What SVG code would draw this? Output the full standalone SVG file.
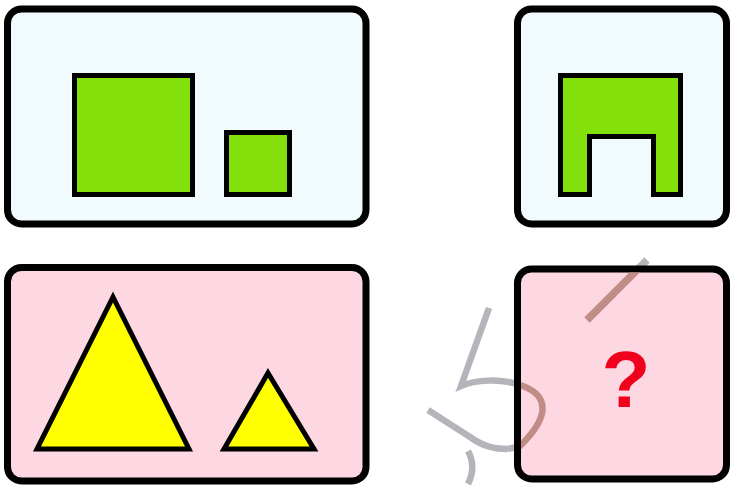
<svg xmlns="http://www.w3.org/2000/svg" width="730" height="486" viewBox="0 0 730 486">
  <defs>
    <clipPath id="br-clip">
      <rect x="521" y="272.5" width="202" height="203" rx="11"/>
    </clipPath>
    <g id="ribbons">
      <path d="M489,308 L461,386 C475,380 500,378 520,385 C548,394 552,415 520,446 L508,449"/>
      <path d="M428,410 L470,437 C480,444 490,449 508,449"/>
      <path d="M468,451 C474,462 474,472 468,484"/>
      <path d="M587,320 L647,260" stroke-width="7.5"/>
    </g>
  </defs>
  <style>
    .panel { stroke: #000; stroke-width: 7; }
    .blue { fill: #f1fbfe; }
    .pink { fill: #fdd7e1; }
    .shape { stroke: #000; stroke-width: 5; stroke-linejoin: miter; }
    .green { fill: #84e00a; }
    .yellow { fill: #ffff00; }
    .ribbon-out { fill: none; stroke: #b4b4ba; stroke-width: 6.5; stroke-linecap: butt; }
    .ribbon-in { fill: none; stroke: #c08c86; stroke-width: 6.5; stroke-linecap: butt; }
    .qm { font-family: "Liberation Sans", Arial, sans-serif; font-weight: bold; font-size: 80px; fill: #f0001c; }
  </style>
  <rect width="730" height="486" fill="#ffffff"/>

  <g id="panel-top-left">
    <rect class="panel blue" x="7.5" y="9" width="358.5" height="215" rx="14"/>
    <rect class="shape green" x="74.5" y="75.5" width="118" height="119"/>
    <rect class="shape green" x="226.5" y="132.5" width="63" height="62"/>
  </g>

  <g id="panel-top-right">
    <rect class="panel blue" x="517.5" y="9" width="209" height="215" rx="14"/>
    <path class="shape green" d="M560.5,75.5 H680.5 V194.5 H653.5 V136.5 H589.5 V194.5 H560.5 Z"/>
  </g>

  <g id="panel-bottom-left">
    <rect class="panel pink" x="7.5" y="267.5" width="358.5" height="213.5" rx="14"/>
    <polygon class="shape yellow" points="113,297 189,449 37,449"/>
    <polygon class="shape yellow" points="268,373 314,449 224,449"/>
  </g>

  <g id="watermark-under">
    <use href="#ribbons" class="ribbon-out"/>
  </g>

  <g id="panel-bottom-right">
    <rect class="panel pink" x="517.5" y="269" width="209" height="210" rx="14"/>
    <text class="qm" x="626" y="407" text-anchor="middle">?</text>
  </g>

  <g id="watermark-over" clip-path="url(#br-clip)">
    <use href="#ribbons" class="ribbon-in"/>
  </g>
</svg>
